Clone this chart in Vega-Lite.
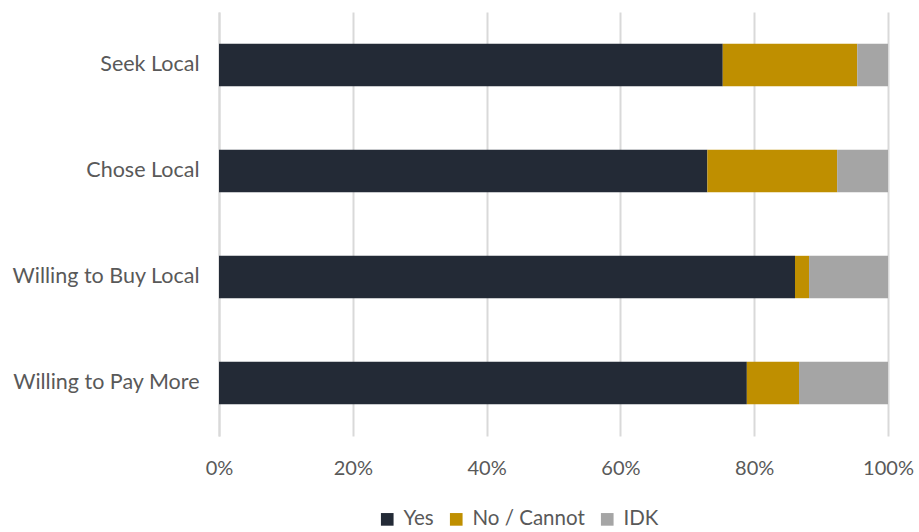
{
  "$schema": "https://vega.github.io/schema/vega-lite/v6.json",
  "width": 669,
  "height": 424,
  "autosize": "none",
  "padding": {"left": 219, "top": 12, "right": 31, "bottom": 96},
  "background": "white",
  "config": {"view": {"stroke": null}, "font": "Lato"},
  "data": {"values": [
    {"item": "Seek Local", "resp": "Yes", "ord": 1, "v": 75.3},
    {"item": "Seek Local", "resp": "No / Cannot", "ord": 2, "v": 20.1},
    {"item": "Seek Local", "resp": "IDK", "ord": 3, "v": 4.6},
    {"item": "Chose Local", "resp": "Yes", "ord": 1, "v": 73.0},
    {"item": "Chose Local", "resp": "No / Cannot", "ord": 2, "v": 19.4},
    {"item": "Chose Local", "resp": "IDK", "ord": 3, "v": 7.6},
    {"item": "Willing to Buy Local", "resp": "Yes", "ord": 1, "v": 86.1},
    {"item": "Willing to Buy Local", "resp": "No / Cannot", "ord": 2, "v": 2.1},
    {"item": "Willing to Buy Local", "resp": "IDK", "ord": 3, "v": 11.8},
    {"item": "Willing to Pay More", "resp": "Yes", "ord": 1, "v": 78.9},
    {"item": "Willing to Pay More", "resp": "No / Cannot", "ord": 2, "v": 7.8},
    {"item": "Willing to Pay More", "resp": "IDK", "ord": 3, "v": 13.3}
  ]},
  "mark": {"type": "bar"},
  "encoding": {
    "y": {
      "field": "item", "type": "nominal",
      "sort": ["Seek Local", "Chose Local", "Willing to Buy Local", "Willing to Pay More"],
      "scale": {"paddingInner": 0.6, "paddingOuter": 0.3},
      "axis": {"title": null, "ticks": false, "domain": true, "domainColor": "#d9d9d9", "domainWidth": 2,
               "labelFontSize": 21.5, "labelColor": "#595959", "labelPadding": 20, "labelFont": "Lato", "labelLimit": 400}
    },
    "x": {
      "field": "v", "type": "quantitative", "stack": "normalize",
      "scale": {"domain": [0, 1]},
      "axis": {"title": null, "format": ".0%", "values": [0, 0.2, 0.4, 0.6, 0.8, 1],
               "grid": true, "gridColor": "#d9d9d9", "gridWidth": 2, "ticks": false, "domain": false, "labelFlush": false,
               "labelFontSize": 20, "labelColor": "#595959", "labelPadding": 22, "labelFont": "Lato"}
    },
    "order": {"field": "ord", "type": "quantitative"},
    "color": {
      "field": "resp", "type": "nominal",
      "scale": {"domain": ["Yes", "No / Cannot", "IDK"], "range": ["#232a36", "#bf8f00", "#a5a5a5"]},
      "legend": {"title": null, "orient": "none", "direction": "horizontal", "legendX": 158, "legendY": 497,
                 "symbolType": "square", "symbolSize": 160, "symbolStrokeWidth": 0,
                 "labelFontSize": 20.5, "labelColor": "#595959", "labelFont": "Lato", "columnPadding": 12, "labelOffset": 6}
    }
  }
}
